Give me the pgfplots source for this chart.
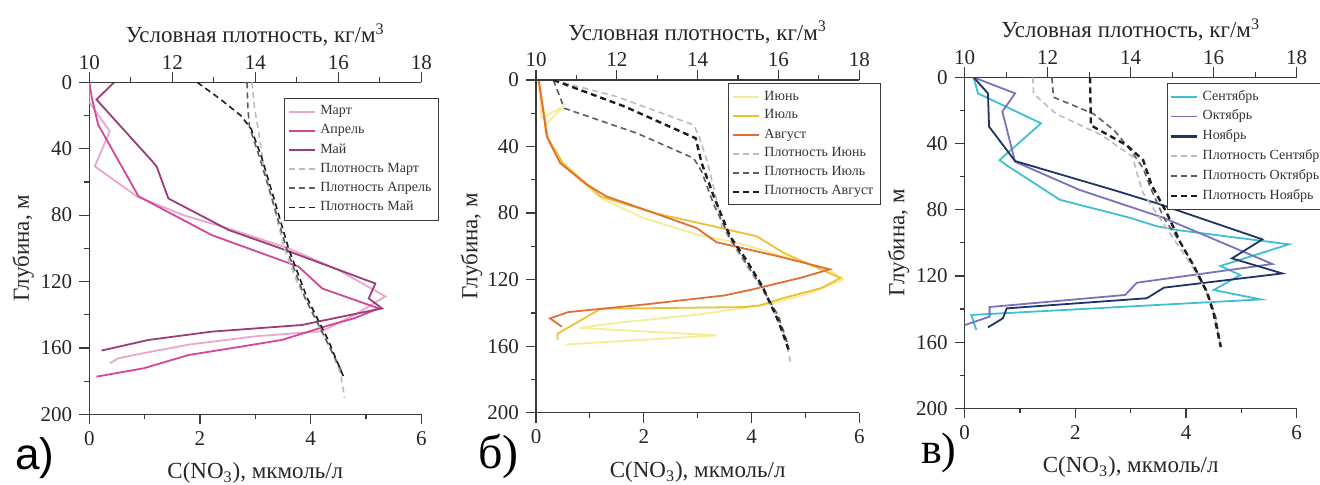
\documentclass[border=0pt]{standalone}
\usepackage{fontspec}
\setmainfont{Liberation Serif}
\newfontfamily\sansf{Liberation Sans}
\usepackage{pgfplots}
\pgfplotsset{compat=1.18}

\definecolor{axgray}{HTML}{3A3A3A}
\definecolor{cmar}{HTML}{E8A8CC}
\definecolor{capr}{HTML}{D2479A}
\definecolor{cmay}{HTML}{9C3C78}
\definecolor{cjun}{HTML}{F5EC98}
\definecolor{cjul}{HTML}{EFC030}
\definecolor{caug}{HTML}{DF7035}
\definecolor{csep}{HTML}{3EC0D2}
\definecolor{coct}{HTML}{7A72BC}
\definecolor{cnov}{HTML}{1E3466}
\definecolor{dlight}{HTML}{BDBDBD}
\definecolor{dmid}{HTML}{5E5E5E}
\definecolor{ddark}{HTML}{1E1E1E}

\pgfplotsset{
  base/.style={scale only axis, ymin=0, ymax=200, y dir=reverse, tick align=outside,
    major tick length=5pt, minor tick length=2.5pt,
    axis line style={draw=axgray, line width=0.7pt},
    tick style={draw=axgray, line width=0.6pt},
    tick label style={font=\fontsize{10.5}{12}\selectfont, text=black!85},
    /pgf/number format/assume math mode=true,
    label style={font=\fontsize{11.5}{13}\selectfont, text=black!85},
  },
  no3/.style={base, xmin=0, xmax=6, xtick={0,2,4,6}, minor xtick={1,3,5},
    ytick={0,40,...,200}, minor ytick={20,60,...,180},
    axis x line*=bottom, axis y line*=left,
    xlabel={C(NO\textsubscript{3}), мкмоль/л}, ylabel={Глубина, м},
    xlabel style={at={(axis description cs:0.5,-0.178)}, anchor=center},
    ylabel style={at={(axis description cs:-0.199,0.5)}, anchor=center},
  },
  dens/.style={base, xmin=10, xmax=18, xtick={10,12,...,18}, minor xtick={11,13,15,17},
    axis x line*=top, hide y axis,
    xticklabel style={yshift=-2pt},
    xlabel={Условная плотность, кг/м\textsuperscript{3}},
    xlabel style={at={(axis description cs:0.5,1.143)}, anchor=center},
    legend cell align=left,
    legend image code/.code={\draw[##1] (0pt,0pt) -- (13pt,0pt);},
    legend style={anchor=north west, draw=axgray, line width=0.5pt, fill=white,
      font=\fontsize{7}{8}\selectfont, text=black!80, inner sep=1.5pt, row sep=-0.6pt},
  },
  sol/.style={line width=0.9pt},
  dl/.style={dash pattern=on 3pt off 2pt, line width=0.8pt},
  dlb/.style={dash pattern=on 3pt off 2pt, line width=1.2pt},
}

\begin{document}
\begin{tikzpicture}

% ---------- а) ----------
\begin{axis}[no3, at={(44.65pt,-41.15pt)}, anchor=north west, width=166pt, height=166pt]
\addplot[sol, cmar] coordinates {(0,0)(0,12)(0.37,29.5)(0.1,50.6)(0.86,68.7)(1.7,80)(2.6,89)(3.6,100)(4.5,113)(5.35,129)(5.15,133)(4.8,140)(4.5,145)(4.2,150)(3.0,153)(1.8,158)(1.0,163)(0.52,166.3)(0.37,169.3)};
\addplot[sol, capr] coordinates {(0,0)(0.05,10)(0.16,25.5)(0.89,68.7)(2.21,92)(3.78,111)(4.21,124.2)(5.23,136.2)(4.8,142)(4.27,147)(3.48,155.2)(2.6,160)(1.79,164.3)(0.98,172.3)(0.13,177.3)};
\addplot[sol, cmay] coordinates {(0.45,0)(0.13,10.4)(1.15,48)(1.22,51)(1.43,70)(2.52,89)(3.54,101)(5.17,121.2)(5.05,130.2)(5.29,136.2)(4.27,143.2)(3.84,146.2)(2.21,150.2)(1.07,155.2)(0.22,161.6)};
\end{axis}
\begin{axis}[dens, at={(44.65pt,-41.15pt)}, anchor=north west, width=166pt, height=166pt,
  legend style={at={(0.587,0.952)}}]
\addlegendimage{sol, cmar}\addlegendentry{Март}
\addlegendimage{line width=1.3pt, capr}\addlegendentry{Апрель}
\addlegendimage{sol, cmay}\addlegendentry{Май}
\addplot[dl, dlight] coordinates {(13.92,0)(13.98,15)(14.08,30)(14.2,50)(14.45,75)(14.7,100)(15.0,120)(15.4,140)(15.8,160)(16.05,175)(16.15,190)};
\addlegendentry{Плотность Март}
\addplot[dl, dmid] coordinates {(13.8,0)(13.82,15)(13.86,27)(14.1,45)(14.4,70)(14.75,100)(15.2,130)(15.7,155)(16.1,175)};
\addlegendentry{Плотность Апрель}
\addplot[dl, ddark] coordinates {(12.6,0)(13.15,10)(13.65,20)(13.9,28)(14.15,45)(14.45,70)(14.8,100)(15.25,130)(15.75,155)(16.12,177)};
\addlegendentry{Плотность Май}
\end{axis}

% ---------- б) ----------
\begin{axis}[no3, at={(268pt,-40pt)}, anchor=north west, width=161.65pt, height=166.35pt]
\addplot[sol, cjun] coordinates {(0.05,0)(0.1,23)(0.5,16)(0.15,28)(0.25,38)(0.5,50)(0.8,60)(1.2,71)(2.0,83)(3.0,93)(3.75,98)(4.6,106)(5.45,114)(5.7,120)(5.1,128)(4.3,135)(3.0,141)(1.5,146)(0.8,149)(3.35,153.5)(0.55,159)};
\addplot[sol, cjul] coordinates {(0.05,0)(0.15,20)(0.22,35)(0.5,50)(0.85,60)(1.2,70)(2.2,80)(3.3,88)(4.1,94)(4.6,104)(5.65,119)(5.3,125)(4.6,131)(4.15,135.5)(3.85,136.5)(1.2,137.5)(0.8,145)(0.4,152.5)(0.4,156)};
\addplot[sol, caug] coordinates {(0.05,0)(0.2,34)(0.45,50)(0.95,63)(1.31,70)(2.2,80)(2.98,89)(3.35,97.5)(4.5,106)(5.45,113.8)(4.9,119)(4.0,126)(3.5,129.5)(2.0,135)(0.6,139.5)(0.26,143.3)(0.48,148.3)};
\end{axis}
\begin{axis}[dens, at={(268pt,-40pt)}, anchor=north west, width=161.65pt, height=166.35pt,
  legend style={at={(0.595,0.99)}}]
\addlegendimage{sol, cjun}\addlegendentry{Июнь}
\addlegendimage{line width=1.3pt, cjul}\addlegendentry{Июль}
\addlegendimage{line width=1.3pt, caug}\addlegendentry{Август}
\addplot[dl, dlight] coordinates {(10.43,0)(12,10)(13.9,27)(14.05,35)(14.25,50)(14.45,70)(14.6,88)(14.9,100)(15.3,115)(15.7,130)(16.0,145)(16.2,158)(16.3,170)};
\addlegendentry{Плотность Июнь}
\addplot[dl, dmid] coordinates {(10.43,0)(10.7,17)(12.5,32)(13.9,47)(14.1,55)(14.4,75)(14.8,95)(15.2,110)(15.6,125)(16.0,142)(16.25,160)};
\addlegendentry{Плотность Июль}
\addplot[dlb, ddark] coordinates {(10.43,0)(12.2,16)(13.95,35)(14.1,50)(14.4,70)(14.8,94)(15.2,108)(15.6,124)(16.0,145)(16.25,162)};
\addlegendentry{Плотность Август}
\end{axis}

% ---------- в) ----------
\begin{axis}[no3, at={(482.35pt,-38.65pt)}, anchor=north west, width=166pt, height=165.5pt]
\addplot[sol, csep] coordinates {(0.16,0)(0.24,9.7)(1.38,27.8)(0.63,50)(0.75,53)(1.72,74)(3.0,85)(3.47,90)(3.84,92.3)(5.86,100.9)(4.62,114)(4.98,119.5)(4.5,128.5)(5.35,134.2)(0.12,143.6)(0.21,152.7)};
\addplot[sol, coct] coordinates {(0.16,0)(0.91,9.7)(0.68,20.7)(0.91,51)(2.08,68.1)(3.6,85)(5.56,112.8)(5.2,114.5)(3.11,124.1)(2.9,131.5)(0.45,138.8)(0.45,144.6)(0,149.7)};
\addplot[sol, cnov] coordinates {(0.16,0)(0.42,9.7)(0.44,29.8)(0.91,50.6)(2.69,68.1)(3.47,76.1)(5.38,97.9)(4.83,109.4)(5.74,118.5)(3.6,127.1)(3.29,133.5)(0.76,139.6)(0.69,145.6)(0.42,151.1)};
\end{axis}
\begin{axis}[dens, at={(482.35pt,-38.65pt)}, anchor=north west, width=166pt, height=165.5pt,
  legend style={at={(0.608,0.984)}}]
\addlegendimage{sol, csep}\addlegendentry{Сентябрь}
\addlegendimage{sol, coct}\addlegendentry{Октябрь}
\addlegendimage{line width=1.3pt, cnov}\addlegendentry{Ноябрь}
\addplot[dl, dlight] coordinates {(11.64,0)(11.66,10)(12.2,22)(13.3,35)(14.05,48)(14.15,58)(14.3,70)(14.7,85)(15.1,100)(15.45,113)(15.8,128)(16.0,142)(16.15,160)};
\addlegendentry{Плотность Сентябрь}
\addplot[dl, dmid] coordinates {(12.1,0)(12.14,12)(13.1,22)(13.6,32)(14.0,44)(14.3,55)(14.5,68)(14.8,85)(15.2,100)(15.55,115)(15.85,130)(16.05,145)(16.17,162)};
\addlegendentry{Плотность Октябрь}
\addplot[dlb, ddark] coordinates {(13.02,0)(13.04,29)(13.9,41)(14.3,50)(14.5,65)(14.87,82)(15.2,100)(15.52,114)(15.84,130)(16.0,143)(16.17,163)};
\addlegendentry{Плотность Ноябрь}
\end{axis}

\node[anchor=west, font=\sansf\fontsize{22}{24}\selectfont] at (4pt,-229pt) {а)};
\node[anchor=west, font=\fontsize{24}{26}\selectfont] at (235.5pt,-228pt) {б)};
\node[anchor=west, font=\fontsize{22}{24}\selectfont] at (457pt,-226.5pt) {в)};

\pgfresetboundingbox
\useasboundingbox (0,0) rectangle (660pt,-242pt);
\end{tikzpicture}
\end{document}
